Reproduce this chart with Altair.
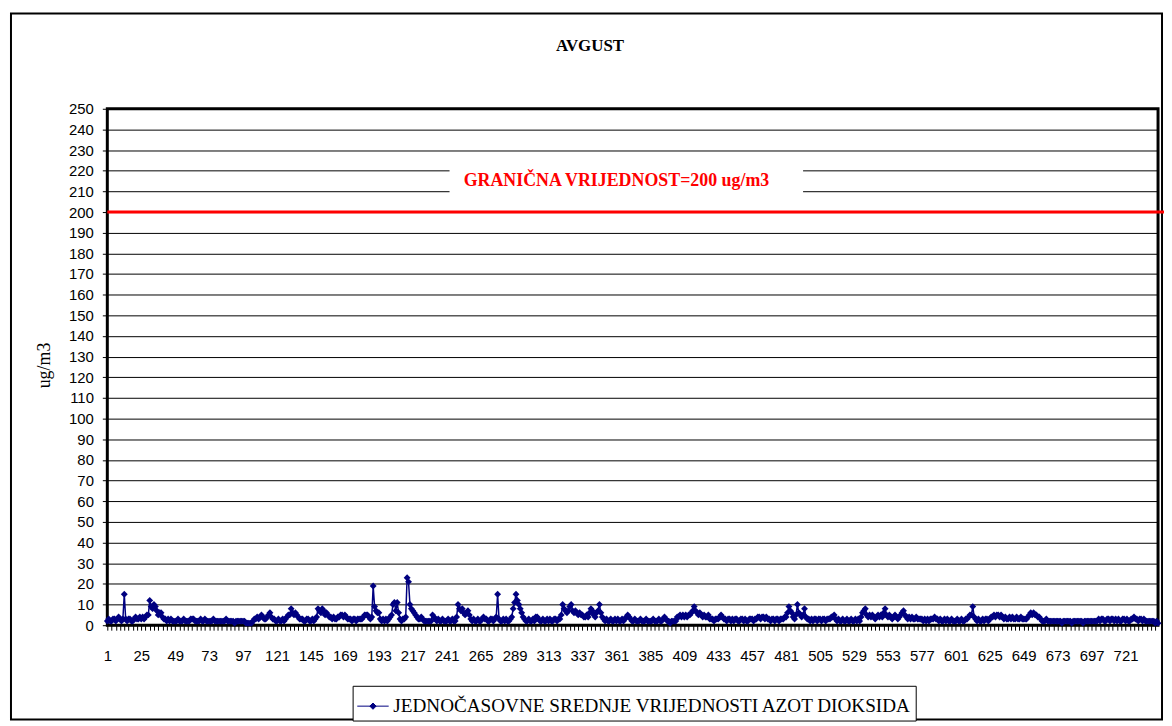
import altair as alt
import pandas as pd

TITLE = "AVGUST"
Y_TITLE = "ug/m3"
LIMIT = 200
LIMIT_LABEL = "GRANIČNA VRIJEDNOST=200 ug/m3"
SERIES = "JEDNOČASOVNE SREDNJE VRIJEDNOSTI AZOT DIOKSIDA"

# hourly NO2 values, one list per day of August (24 h each)
d01 = [2, 3, 2, 2, 3, 3, 2, 3, 4, 3, 2, 3, 15, 3, 2, 3, 3, 2, 2, 3, 4, 3, 3, 4]
d02 = [3, 4, 3, 4, 5, 5, 12, 9, 8, 10, 9, 7, 5, 6, 6, 4, 3, 3, 2, 3, 2, 3, 2, 2]
d03 = [2, 2, 3, 2, 2, 2, 3, 2, 2, 2, 2, 3, 3, 3, 2, 2, 2, 2, 3, 2, 2, 3, 2, 2]
d04 = [2, 2, 2, 3, 2, 2, 2, 2, 2, 2, 2, 2, 3, 2, 2, 2, 2, 2, 1, 2, 2, 2, 2, 2]
d05 = [2, 2, 1, 1, 1, 1, 1, 2, 3, 3, 4, 3, 4, 5, 4, 3, 3, 4, 5, 6, 4, 3, 3, 2]
d06 = [2, 3, 2, 2, 3, 2, 3, 4, 5, 5, 8, 6, 5, 6, 5, 4, 3, 3, 3, 2, 2, 3, 3, 2]
d07 = [2, 3, 2, 3, 4, 8, 7, 6, 8, 7, 5, 6, 5, 4, 4, 3, 4, 3, 3, 4, 4, 5, 5, 4]
d08 = [5, 4, 3, 3, 3, 2, 3, 3, 2, 3, 3, 3, 3, 4, 5, 5, 5, 4, 3, 4, 19, 9, 7, 6]
d09 = [6, 3, 2, 3, 2, 3, 2, 3, 4, 5, 10, 11, 7, 11, 6, 3, 2, 3, 3, 4, 23, 21, 10, 8]
d10 = [7, 6, 5, 4, 3, 3, 4, 3, 2, 2, 2, 2, 2, 2, 5, 4, 3, 2, 3, 2, 2, 3, 2, 2]
d11 = [2, 3, 2, 2, 3, 2, 2, 4, 10, 8, 7, 8, 6, 5, 6, 7, 5, 3, 2, 3, 2, 2, 3, 2]
d12 = [2, 3, 4, 3, 3, 2, 2, 3, 3, 2, 3, 4, 15, 3, 2, 2, 3, 2, 3, 2, 2, 3, 4, 8]
d13 = [11, 15, 12, 10, 8, 6, 4, 3, 2, 2, 3, 2, 2, 3, 2, 4, 4, 3, 2, 2, 3, 2, 2, 3]
d14 = [2, 3, 2, 2, 3, 3, 2, 3, 3, 5, 10, 8, 7, 6, 7, 9, 10, 7, 6, 7, 6, 5, 6, 5]
d15 = [5, 4, 4, 5, 4, 6, 8, 7, 5, 4, 6, 7, 10, 6, 4, 3, 2, 3, 2, 2, 3, 2, 2, 3]
d16 = [2, 3, 2, 2, 3, 2, 3, 4, 5, 4, 3, 2, 2, 3, 2, 2, 2, 3, 2, 2, 2, 3, 2, 2]
d17 = [2, 2, 3, 2, 2, 2, 3, 2, 2, 3, 4, 3, 2, 2, 1, 2, 2, 2, 2, 4, 4, 5, 4, 5]
d18 = [4, 5, 4, 5, 5, 6, 7, 9, 7, 6, 5, 6, 5, 4, 5, 4, 4, 5, 3, 3, 3, 2, 3, 3]
d19 = [3, 4, 5, 4, 3, 3, 2, 3, 3, 2, 3, 2, 3, 3, 2, 2, 3, 3, 2, 3, 2, 2, 3, 3]
d20 = [3, 2, 3, 3, 4, 4, 3, 4, 4, 3, 4, 3, 3, 2, 3, 3, 2, 3, 3, 2, 3, 3, 3, 4]
d21 = [4, 6, 9, 7, 6, 4, 3, 5, 10, 6, 5, 4, 5, 8, 4, 3, 3, 2, 3, 2, 3, 3, 2, 3]
d22 = [3, 2, 3, 3, 2, 3, 3, 3, 4, 4, 5, 3, 2, 3, 2, 2, 3, 2, 2, 3, 2, 2, 3, 2]
d23 = [2, 3, 2, 3, 2, 4, 6, 7, 8, 5, 4, 5, 4, 5, 4, 3, 4, 5, 4, 5, 4, 6, 8, 5]
d24 = [4, 5, 4, 3, 4, 5, 4, 3, 4, 5, 6, 7, 5, 4, 3, 4, 3, 4, 3, 3, 4, 3, 3, 3]
d25 = [3, 2, 3, 2, 3, 2, 3, 3, 3, 4, 3, 3, 2, 3, 2, 2, 3, 2, 3, 2, 2, 3, 2, 2]
d26 = [2, 3, 2, 2, 3, 2, 2, 3, 3, 4, 5, 5, 9, 4, 3, 2, 3, 2, 2, 3, 2, 3, 3, 2]
d27 = [3, 4, 4, 5, 4, 5, 5, 4, 5, 4, 3, 4, 3, 3, 4, 3, 4, 3, 3, 4, 3, 3, 4, 3]
d28 = [3, 3, 3, 4, 5, 6, 5, 6, 5, 5, 4, 4, 3, 2, 2, 2, 3, 2, 2, 2, 2, 2, 2, 2]
d29 = [2, 2, 2, 1, 2, 2, 2, 2, 2, 2, 1, 2, 2, 2, 2, 2, 2, 2, 1, 2, 2, 2, 2, 2]
d30 = [2, 2, 2, 2, 2, 3, 2, 3, 3, 2, 2, 3, 3, 2, 3, 3, 2, 3, 2, 3, 2, 2, 3, 3]
d31 = [2, 3, 2, 2, 3, 3, 4, 3, 3, 2, 3, 3, 2, 3, 2, 2, 2, 2, 2, 2, 2, 1, 2, 1]

days = [d01, d02, d03, d04, d05, d06, d07, d08, d09, d10, d11, d12, d13, d14, d15, d16,
        d17, d18, d19, d20, d21, d22, d23, d24, d25, d26, d27, d28, d29, d30, d31]
values = [v for d in days for v in d]
hours = list(range(1, len(values) + 1))

Y_TICKS = list(range(0, 251, 10))
X_TICKS = list(range(1, 745, 3))

# annotation placement in data units
LABEL_HOUR = 361
LABEL_VALUE = 215
BOX_HOURS = (243, 493)
BOX_VALUES = (207.5, 223)

df = pd.DataFrame({"hour": hours, "value": values, "series": SERIES})
one = pd.DataFrame({"k": [0]})

W, H = 1058, 520
PAD = {"left": 100, "top": 99, "right": 6, "bottom": 97}

xs = alt.Scale(domain=[1, 744], nice=False, zero=False)
ys = alt.Scale(domain=[0, 250], nice=False)

x_axis = alt.Axis(values=X_TICKS, tickCount=400,
                  labelExpr="(datum.value - 1) % 24 == 0 ? datum.label : ''",
                  grid=False, domain=False, title=None, tickSize=5, tickColor="black",
                  labelPadding=19, labelOverlap=False, labelFlush=False, format="d",
                  labelFont="Liberation Sans", labelFontSize=15, labelColor="black")
y_axis = alt.Axis(values=Y_TICKS, tickCount=100, labelOverlap=False,
                  grid=True, gridColor="black", gridWidth=1, domain=False,
                  tickSize=5, tickColor="black", labelPadding=9, labelFont="Liberation Sans",
                  labelFontSize=15, labelColor="black", title=Y_TITLE, titleFont="Liberation Serif",
                  titleFontSize=18, titleFontWeight="normal", titleColor="black",
                  titleAngle=270, titleX=-63, titleY=258, titleAlign="center", titleBaseline="middle")

base = alt.Chart(df)

line = base.mark_line(
    color="#000080", strokeWidth=1.5,
    point=alt.OverlayMarkDef(shape="diamond", size=48, filled=True, color="#000080"),
).encode(
    x=alt.X("hour:Q", scale=xs, axis=x_axis),
    y=alt.Y("value:Q", scale=ys, axis=y_axis),
    color=alt.Color("series:N", scale=alt.Scale(range=["#000080"]),
                    legend=alt.Legend(title=None, orient="none", legendX=247, legendY=581,
                                      symbolType="M-1,0L1,0M0,-0.2L0.2,0L0,0.2L-0.2,0Z",
                                      symbolSize=1000, symbolStrokeWidth=1,
                                      symbolStrokeColor="#000080", symbolFillColor="#000080",
                                      labelFont="Liberation Serif", labelFontSize=19.3,
                                      labelColor="black", labelOffset=4, labelLimit=0,
                                      strokeColor="black", fillColor="white", padding=4)),
)

box = alt.Chart(one).mark_rect(fill="white", stroke=None).encode(
    x=alt.datum(BOX_HOURS[0], scale=xs), x2=alt.datum(BOX_HOURS[1]),
    y=alt.datum(BOX_VALUES[0], scale=ys), y2=alt.datum(BOX_VALUES[1]),
)

limit = alt.Chart(one).mark_rule(color="#FF0000", strokeWidth=3).encode(
    y=alt.datum(LIMIT, scale=ys), x=alt.value(0), x2=alt.value(W + PAD["right"]),
)

limit_text = alt.Chart(one).mark_text(
    text=LIMIT_LABEL, color="#FF0000", font="Liberation Serif", fontWeight="bold",
    fontSize=18, align="center", baseline="middle",
).encode(x=alt.datum(LABEL_HOUR, scale=xs), y=alt.datum(LABEL_VALUE, scale=ys))

title = alt.Chart(one).mark_text(
    text=TITLE, color="black", font="Liberation Serif", fontWeight="bold",
    fontSize=17, align="center", baseline="middle",
).encode(x=alt.value(486), y=alt.value(-63))

frame = alt.Chart(one).mark_rect(fill="white", fillOpacity=0, stroke="black", strokeWidth=2).encode(
    x=alt.value(-97), x2=alt.value(W + PAD["right"] - 2), y=alt.value(-96), y2=alt.value(H + PAD["bottom"] - 2),
)

chart = alt.layer(frame, box, limit, limit_text, title, line).properties(
    width=W, height=H, padding=PAD, autosize=alt.AutoSizeParams(type="none"),
    background="white",
).configure_view(stroke="black", strokeWidth=3)

chart.save("out.html", embed_options={"renderer": "svg", "actions": False})
